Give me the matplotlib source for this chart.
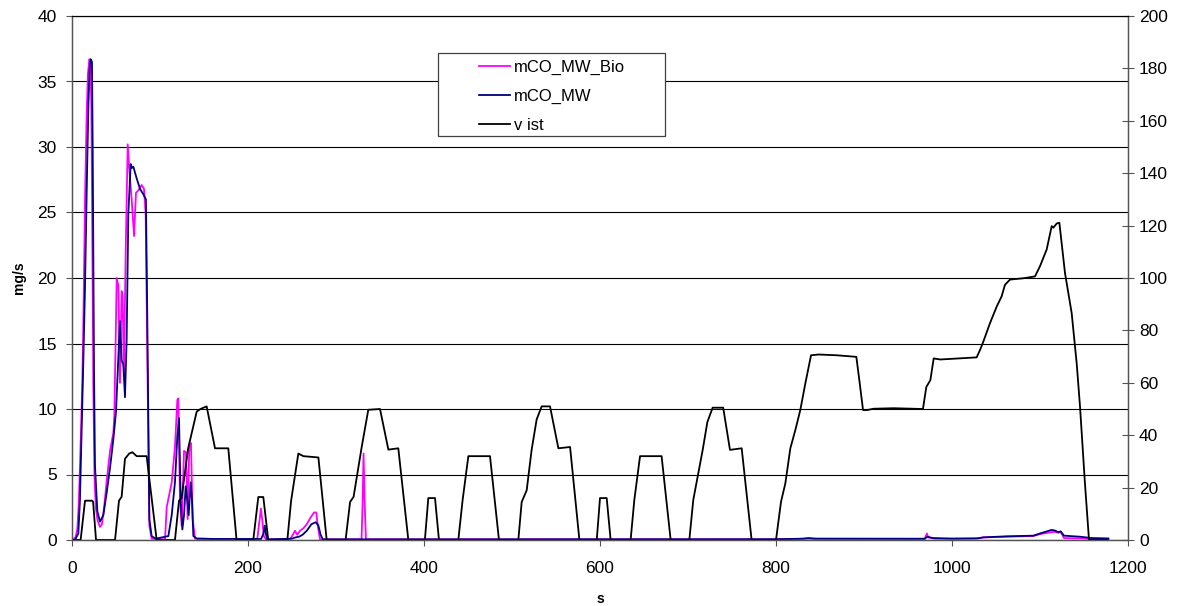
import matplotlib
matplotlib.use("Agg")
import matplotlib.pyplot as plt
from matplotlib.patches import Rectangle
from matplotlib.lines import Line2D

plt.rcParams['font.family'] = ['Liberation Sans', 'DejaVu Sans']

# DATA

# v ist [km/h], right axis
v_t = [0, 9.8, 14.8, 23, 24, 27.3,
       48.9, 53.4, 56.4, 60.2, 65, 68.6, 73.5, 84.8, 96.2,
       117, 121.6, 124.5, 132, 141.7, 146, 153, 162.5, 177.6, 187,
       206, 211.7, 217.4, 223,
       244.7, 249, 257.2, 262.9, 280, 289.4,
       310.9, 316, 320, 329.2, 336.7, 350, 359.5, 370.8, 382.2,
       401, 404.9, 412.5, 417,
       439, 443.9, 450.4, 475, 485.2,
       507.2, 511, 516.7, 522.3, 528, 533.7, 543.2, 552.7, 566, 576.6,
       596.3, 600, 607.6, 612.1,
       634.8, 639, 645.5, 670, 680.3,
       701.5, 706, 716.7, 722, 728, 740, 747.7, 761, 772.3,
       800, 805.7, 810.6, 816.3, 822, 827.6, 833.3, 839.8, 848.5, 869.3,
       891.3, 894.7, 898.9, 903.4, 911, 933.7, 967, 970.8, 975.4, 979.2,
       986.7, 1028, 1031.8, 1035.6, 1043.2, 1050.8, 1056.4, 1060.2, 1065.9,
       1081, 1094.3, 1100, 1107.6, 1113.3, 1115.2, 1119, 1122, 1128.4,
       1136, 1141.7, 1145.5, 1151.1, 1155.7, 1177]
v_ist = [0, 0, 15, 15, 14.5, 0,
         0, 15, 16.5, 31, 33, 33.5, 32, 32, 0,
         0, 15, 16, 35, 49, 50, 51, 35, 35, 0,
         0, 16.4, 16.4, 0,
         0, 15, 33, 32, 31.5, 0,
         0, 14.5, 16.5, 35.5, 49.7, 50, 34.5, 35, 0,
         0, 16, 16, 0,
         0, 15.3, 32, 32, 0,
         0, 14.5, 19, 34.4, 46, 51, 51, 35, 35.5, 0,
         0, 16, 16, 0,
         0, 15.3, 32, 32, 0,
         0, 15.3, 34.4, 45, 50.5, 50.5, 34.4, 35, 0,
         0, 14.6, 21.6, 35, 42, 49.6, 59.7, 70.5, 70.8, 70.5,
         69.9, 61, 49.6, 49.6, 50.1, 50.3, 50, 58.4, 61, 69.3,
         68.9, 69.7, 72.5, 75.7, 82.8, 89.1, 93, 97.4, 99.4,
         99.9, 100.6, 104.5, 110.9, 119.8, 119.2, 120.8, 121.1, 101.9,
         86.6, 67.4, 50.8, 21.5, 0, 0]

# mCO_MW_Bio [mg/s]
bio_t = [0, 4, 6, 7.5, 9.1, 10.5, 11.7, 13, 14.8, 16.5, 18, 19.7, 21, 22, 23,
         24.2, 25.5, 27, 29, 31.8, 34, 36.5, 39.4, 43.2, 47, 48.1, 50.8, 52.7,
         54.5, 56.4, 57.5, 59, 61, 63.3, 65, 67.8, 70.5, 72.7, 75.4, 79.2, 81.8,
         83.7, 85.6, 87.9, 90.5, 105.7, 107.6, 113.3, 117, 119.7, 120.8, 122.7,
         124.6, 127.3, 129.5, 131.4, 133.3, 135.2, 137.1, 139.8,
         145, 160, 190, 208, 210.6, 212.5, 214.7, 216.5, 218, 220.4,
         247.7, 251, 253.4, 256, 259, 263, 266.7, 271, 275, 277.5, 279.5, 281.8,
         329, 330.3, 331.3, 332.5, 334, 600, 800, 837, 969, 971.5, 973, 980,
         1030, 1035.6, 1062, 1092.4, 1100, 1113.3, 1117, 1120.8, 1123.5, 1127.3,
         1145.5, 1158.8, 1177.7]
mco_bio = [0, 0.2, 0.8, 2.5, 5.7, 9, 12, 17, 26, 32, 35.5, 36.7, 36.5, 33, 24,
           12, 5, 2.5, 1.5, 1.0, 1.2, 2.5, 4.5, 6.8, 8.2, 9.5, 20.0, 19.4,
           12, 19, 18.6, 12.6, 22, 30.2, 28.4, 26, 23.2, 26.5, 26.7, 27.1, 26.8,
           24.9, 14, 1.1, 0.1, 0.05, 2.5, 4.4, 7.1, 10.7, 10.8, 3.0,
           1.1, 6.8, 6.7, 1.6, 7.1, 7.4, 1.6, 0.1,
           0.12, 0.08, 0.05, 0.05, 0.1, 1.2, 2.4, 1.3, 0.3, 0.05,
           0.05, 0.4, 0.7, 0.4, 0.7, 0.9, 1.2, 1.7, 2.1, 2.1, 1.0, 0.05,
           0.05, 3, 6.6, 3, 0.05, 0.05, 0.05, 0.1, 0.08, 0.5, 0.2, 0.1,
           0.12, 0.2, 0.25, 0.3, 0.45, 0.6, 0.62, 0.55, 0.6, 0.15,
           0.12, 0.08, 0.08]

# mCO_MW [mg/s]
mw_t = [0, 3.4, 7.2, 9, 11, 13, 14.8, 16.8, 18.6, 20, 21.2, 22.7, 23.5, 24.2, 25,
        26.1, 28.8, 31.8, 35.6, 39.4, 43.2, 47, 50, 52.7, 54.5, 56.4, 58.3,
        60.2, 62.1, 64, 66.7, 68, 69.7, 73.5, 77.3, 81, 84, 85.6, 87.9, 90.5,
        95, 109.5, 113.3, 117, 119.7, 121.6, 123.5, 125.4, 127.3, 129.2, 131.1,
        132.6, 134.8, 136.4, 137.9, 142,
        160, 215, 217.5, 219, 220.5, 222, 250, 254, 258, 262, 266.7, 272, 277,
        280, 282.5, 285, 400, 800, 830, 837, 845, 969, 972, 978, 1000, 1028,
        1035.6, 1062, 1092.4, 1100, 1113.3, 1117, 1120.8, 1123.5, 1127.3,
        1145.5, 1158.8, 1177.7]
mco_mw = [0, 0, 0.5, 3, 8.5, 14, 19.4, 27, 33.1, 36, 36.7, 36.5, 30, 22.2, 13,
          5.7, 2.2, 1.4, 1.9, 3.6, 5.5, 7.7, 9.8, 14, 16.7, 13.7, 13.4,
          10.9, 15.3, 24.9, 28.7, 28.4, 28.5, 27.6, 26.8, 26.4, 26, 16.7, 1.6, 0.3,
          0.1, 0.3, 1.9, 4.4, 7.9, 9.3, 3.0, 0.8, 1.9, 4.1, 3.0,
          1.9, 4.4, 3.0, 0.3, 0.1,
          0.08, 0.08, 0.5, 1.1, 0.4, 0.05, 0.1, 0.2, 0.25, 0.4, 0.7, 1.2, 1.36,
          1.1, 0.4, 0.05, 0.05, 0.06, 0.1, 0.15, 0.1, 0.1, 0.25, 0.15, 0.1, 0.12,
          0.2, 0.28, 0.33, 0.5, 0.77, 0.72, 0.6, 0.66, 0.33,
          0.25, 0.15, 0.12]

x_ticks = [0, 200, 400, 600, 800, 1000, 1200]
left_ticks = [0, 5, 10, 15, 20, 25, 30, 35, 40]
right_ticks = [0, 20, 40, 60, 80, 100, 120, 140, 160, 180, 200]

# PLOT

W, H = 1177, 606
fig = plt.figure(figsize=(W / 100, H / 100), dpi=100)
ax = fig.add_axes([72 / W, 1 - 540 / H, (1128 - 72) / W, (540 - 16) / H])
ax2 = ax.twinx()

ax.plot(bio_t, mco_bio, color="#FF00FF", lw=1.3, label="mCO_MW_Bio")
ax.plot(mw_t, mco_mw, color="#000080", lw=1.3, label="mCO_MW")
ax2.plot(v_t, v_ist, color="black", lw=1.3, label="v ist")

ax.set_xlim(0, 1200)
ax.set_ylim(0, 40)
ax2.set_ylim(0, 200)
ax.set_xticks(x_ticks)
ax.set_yticks(left_ticks)
ax2.set_yticks(right_ticks)

ax.yaxis.grid(True, color="black", lw=0.8)
ax.set_axisbelow(True)

for a in (ax, ax2):
    for s in a.spines.values():
        s.set_color("#555555")
        s.set_linewidth(0.9)
    a.spines["top"].set_color("black")
    a.spines["top"].set_linewidth(0.8)

ax.tick_params(axis="x", direction="out", length=4, width=0.8, color="#555555",
               labelsize=12.5, pad=11)
ax.tick_params(axis="y", direction="out", length=4, width=0.8, color="#555555",
               labelsize=12.5, pad=7)
ax2.tick_params(axis="y", direction="inout", length=8, width=0.8, color="#555555",
                labelsize=12.5, pad=4)

ax.set_ylabel("mg/s", fontsize=10, fontweight="bold")
ax.yaxis.set_label_coords(-0.044, 0.5)
ax.set_xlabel("s", fontsize=10, fontweight="bold")
ax.xaxis.set_label_coords(0.5, -0.1)

# legend box
box = Rectangle((438 / W, 1 - 136 / H), 227 / W, 83 / H, transform=fig.transFigure,
                facecolor="white", edgecolor="#404040", lw=0.9, zorder=4,
                clip_on=False)
ax2.add_patch(box)
handles = [Line2D([], [], color="#FF00FF", lw=1.3),
           Line2D([], [], color="#000080", lw=1.3),
           Line2D([], [], color="black", lw=1.3)]
leg = ax2.legend(handles, ["mCO_MW_Bio", "mCO_MW", "v ist"], loc="upper left",
                 bbox_to_anchor=(479 / W, 1 - 60 / H), bbox_transform=fig.transFigure,
                 frameon=False, fontsize=12, borderpad=0, borderaxespad=0,
                 handlelength=1.85, handletextpad=0.25, labelspacing=0.82)
leg.set_zorder(5)

fig.savefig("out.png", dpi=100)
